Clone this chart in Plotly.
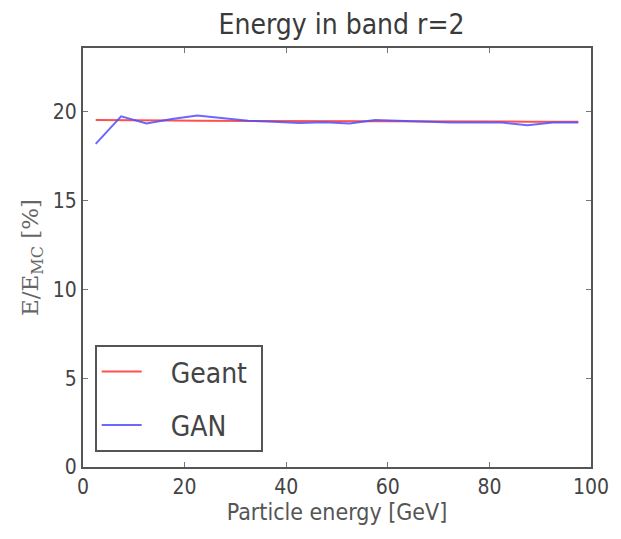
import plotly.graph_objects as go

energy = [2.5, 7.5, 12.5, 17.5, 22.5, 27.5, 32.5, 37.5, 42.5, 47.5,
          52.5, 57.5, 62.5, 67.5, 72.5, 77.5, 82.5, 87.5, 92.5, 97.5]
geant = [19.55, 19.55, 19.52, 19.52, 19.5, 19.5, 19.5, 19.48, 19.48, 19.47,
         19.47, 19.47, 19.47, 19.46, 19.46, 19.46, 19.46, 19.45, 19.45, 19.45]
gan = [18.2, 19.75, 19.35, 19.6, 19.8, 19.65, 19.5, 19.45, 19.38, 19.42,
       19.35, 19.55, 19.5, 19.45, 19.4, 19.4, 19.4, 19.25, 19.4, 19.4]
series_names = ["Geant", "GAN"]

COND = "DejaVu Sans Condensed, DejaVu Sans"
NB = "\u00a0"

fig = go.Figure()
fig.add_trace(go.Scatter(x=energy, y=geant, mode="lines",
                         name=NB * 3 + series_names[0] + NB, legendgroup="a",
                         line=dict(color="#ff5050", width=2)))
fig.add_trace(go.Scatter(x=energy, y=gan, mode="lines",
                         name=NB * 3 + series_names[1], legendgroup="b",
                         line=dict(color="#5050ff", width=2), opacity=0.85))

axis_common = dict(showgrid=False, zeroline=False, showline=True, linecolor="#555555",
                   linewidth=2, mirror="ticks", ticks="inside", ticklen=5,
                   tickcolor="#777777", tickfont=dict(size=21, color="#444444", family=COND))

fig.update_layout(
    width=621, height=539,
    margin=dict(l=83, r=24, t=48, b=72),
    paper_bgcolor="white", plot_bgcolor="white",
    title=dict(text="Energy in band r=2", x=0.55, xanchor="center", y=0.955, yanchor="middle",
               font=dict(size=28, color="#3a3a3a", family=COND)),
    xaxis=dict(range=[0, 100], tickvals=[0, 20, 40, 60, 80, 100],
               title=dict(text="Particle energy [GeV]", standoff=4,
                          font=dict(size=23, color="#555555", family=COND)),
               **axis_common),
    yaxis=dict(range=[0, 23.6], tickvals=[0, 5, 10, 15, 20],
               title=dict(text="E/E<sub>MC</sub> [%]", standoff=8,
                          font=dict(size=23, color="#666666", family="DejaVu Serif")),
               **axis_common),
    legend=dict(x=0.023, y=0.036, xanchor="left", yanchor="bottom",
                bordercolor="#555555", borderwidth=2, bgcolor="white",
                font=dict(size=28, color="#444444", family=COND),
                itemwidth=40, tracegroupgap=14, traceorder="grouped"),
    showlegend=True,
)

fig.write_html("out.html")
